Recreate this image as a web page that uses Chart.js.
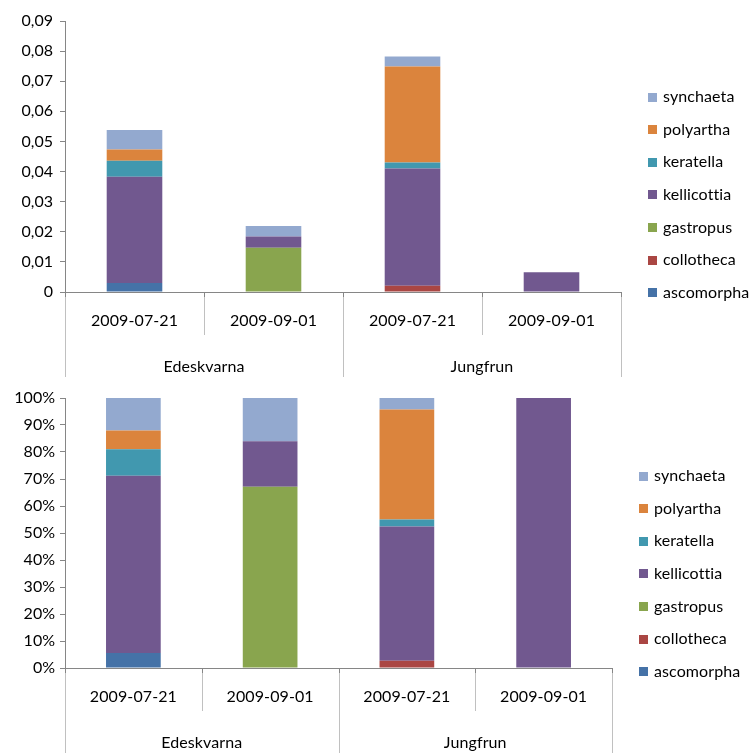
<!DOCTYPE html>
<html>
<head>
<meta charset="utf-8">
<script src="https://cdn.jsdelivr.net/npm/chart.js@4.4.1/dist/chart.umd.min.js"></script>
<style>
  html, body { margin: 0; padding: 0; background: #fff; }
  #wrap { position: relative; width: 754px; height: 753px; overflow: hidden; }
  canvas { position: absolute; left: 0; }
  #abs { top: 0; }
  #rel { top: 377px; }
</style>
</head>
<body>
<div id="wrap">
  <canvas id="abs" width="754" height="377"></canvas>
  <canvas id="rel" width="754" height="376"></canvas>
</div>
<script>
// Sampling dates, grouped by site (two dates per site)
const dates = ['2009-07-21', '2009-09-01', '2009-07-21', '2009-09-01'];
const sites = ['Edeskvarna', 'Jungfrun'];

// Abundance per taxon, one value per sample (same order as dates)
const ascomorpha  = [0.0030, 0,      0,      0];
const collotheca  = [0,      0,      0.0021, 0];
const gastropus   = [0,      0.0147, 0,      0];
const kellicottia = [0.0353, 0.0037, 0.0389, 0.0066];
const keratella   = [0.0053, 0,      0.0020, 0];
const polyartha   = [0.0037, 0,      0.0319, 0];
const synchaeta   = [0.0065, 0.0035, 0.0033, 0];

const absTicks = [0, 0.01, 0.02, 0.03, 0.04, 0.05, 0.06, 0.07, 0.08, 0.09];
const pctTicks = [0, 10, 20, 30, 40, 50, 60, 70, 80, 90, 100];

const taxa = [
  { name: 'ascomorpha',  values: ascomorpha,  color: '#4572A7' },
  { name: 'collotheca',  values: collotheca,  color: '#AA4643' },
  { name: 'gastropus',   values: gastropus,   color: '#89A54E' },
  { name: 'kellicottia', values: kellicottia, color: '#71588F' },
  { name: 'keratella',   values: keratella,   color: '#4198AF' },
  { name: 'polyartha',   values: polyartha,   color: '#DB843D' },
  { name: 'synchaeta',   values: synchaeta,   color: '#93A9CF' }
];

// Totals per sample, used for the 100% stacked view
const totals = dates.map((_, i) => taxa.reduce((s, t) => s + t.values[i], 0));

Chart.defaults.font.family = 'Lato, "Open Sans", sans-serif';
Chart.defaults.font.size = 16;
Chart.defaults.color = '#000';

const FONT = '16px Lato, "Open Sans", sans-serif';

// Two-level category axis (date / site) plus a reversed legend on the right
const groupedAxis = {
  id: 'groupedAxis',
  afterDraw(chart) {
    const ctx = chart.ctx;
    const a = chart.chartArea;
    const n = dates.length;
    const w = (a.right - a.left) / n;
    const h = chart.height;
    ctx.save();
    ctx.lineWidth = 1;
    for (let i = 0; i <= n; i++) {
      const x = Math.round(a.left + i * w) + 0.5;
      const outer = (i % 2 === 0);
      const end = outer ? h : a.bottom + 43;
      ctx.strokeStyle = '#C0C0C0';
      ctx.beginPath(); ctx.moveTo(x, a.bottom + 5); ctx.lineTo(x, end); ctx.stroke();
      ctx.strokeStyle = '#868686';
      ctx.beginPath(); ctx.moveTo(x, a.bottom); ctx.lineTo(x, a.bottom + 5); ctx.stroke();
    }
    ctx.fillStyle = '#000';
    ctx.font = FONT;
    if ('letterSpacing' in ctx) ctx.letterSpacing = '0.1px';
    ctx.textAlign = 'center';
    ctx.textBaseline = 'middle';
    dates.forEach((d, i) => ctx.fillText(d, a.left + (i + 0.5) * w, a.bottom + 29));
    sites.forEach((s, j) => ctx.fillText(s, a.left + (2 * j + 1) * w, a.bottom + 75));

    // legend, top entry is the last stacked series
    const lx = a.right + 27;
    const ly0 = chart.options.plugins.groupedAxis.legendTop;
    const step = 32.6;
    ctx.textAlign = 'left';
    taxa.slice().reverse().forEach((t, k) => {
      const cy = ly0 + k * step;
      ctx.fillStyle = t.color;
      ctx.fillRect(lx, Math.round(cy - 4.5), 9, 9);
      ctx.fillStyle = '#000';
      ctx.fillText(t.name, lx + 15, cy);
    });
    ctx.restore();
  }
};

function makeChart(id, datasets, yOpts, padRight, legendTop) {
  return new Chart(document.getElementById(id), {
    type: 'bar',
    data: { labels: dates, datasets },
    options: {
      responsive: false,
      animation: false,
      layout: { padding: { left: 0, right: padRight, top: 21, bottom: 0 } },
      plugins: {
        legend: { display: false },
        tooltip: { enabled: false },
        groupedAxis: { legendTop }
      },
      datasets: { bar: { barPercentage: 0.4, categoryPercentage: 1, borderWidth: 0 } },
      scales: {
        x: {
          stacked: true,
          grid: { display: false },
          ticks: { display: false },
          border: { display: true, color: '#868686', width: 1 },
          afterFit(s) { s.height = 85; }
        },
        y: Object.assign({
          stacked: true,
          grid: { drawOnChartArea: false, drawTicks: true, tickLength: 5, color: '#868686' },
          border: { display: true, color: '#868686', width: 1 },
          afterFit(s) { s.width = 65; }
        }, yOpts)
      }
    },
    plugins: [groupedAxis]
  });
}

// Absolute abundance
makeChart('abs',
  taxa.map(t => ({ label: t.name, data: t.values, backgroundColor: t.color })),
  {
    min: 0, max: 0.09,
    afterBuildTicks(s) { s.ticks = absTicks.map(v => ({ value: v })); },
    ticks: { padding: 7, callback: v => v === 0 ? '0' : v.toFixed(2).replace('.', ',') }
  },
  133, 97);

// Relative composition (100% stacked)
makeChart('rel',
  taxa.map(t => ({
    label: t.name,
    data: t.values.map((v, i) => v / totals[i] * 100),
    backgroundColor: t.color
  })),
  {
    min: 0, max: 100,
    afterBuildTicks(s) { s.ticks = pctTicks.map(v => ({ value: v })); },
    ticks: { padding: 5, callback: v => v + '%' }
  },
  142, 99);
</script>
</body>
</html>
